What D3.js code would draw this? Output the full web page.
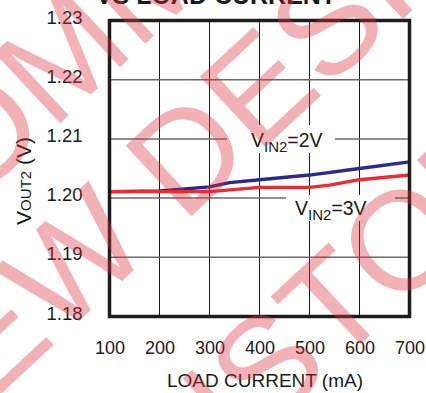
<!DOCTYPE html>
<html>
<head>
<meta charset="utf-8">
<script src="https://cdn.jsdelivr.net/npm/d3@7"></script>
<style>
  body { margin: 0; background: #fff; }
  svg { display: block; font-family: "Liberation Sans", Arial, Helvetica, sans-serif; }
</style>
</head>
<body>
<svg id="chart" width="426" height="393"></svg>
<script>
// Load current ticks (mA) and output voltage ticks (V)
const xTickValues = [100, 200, 300, 400, 500, 600, 700];
const yTickValues = [1.18, 1.19, 1.20, 1.21, 1.22, 1.23];

// VOUT2 vs load current, VIN2 = 2V
const vin2Load = [100, 200, 300, 340, 400, 500, 600, 700];
const vin2Vout = [1.2011, 1.2012, 1.2019, 1.2026, 1.2031, 1.2039, 1.2050, 1.2061];

// VOUT2 vs load current, VIN2 = 3V
const vin3Load = [100, 200, 300, 400, 500, 540, 600, 700];
const vin3Vout = [1.2011, 1.2011, 1.2011, 1.2018, 1.2018, 1.2022, 1.2031, 1.2039];

// Watermark lines
const watermarkLines = ["NOT RECOMMENDED", "FOR NEW DESIGNS", "CONTACT CUSTOMER"];

const svg = d3.select("#chart");

const x = d3.scaleLinear().domain([100, 700]).range([109.5, 409.5]);
const y = d3.scaleLinear().domain([1.18, 1.23]).range([316.5, 20.5]);

// Title (runs off the top edge)
svg.append("text")
  .attr("x", 216).attr("y", 3.5)
  .attr("text-anchor", "middle")
  .attr("font-size", 25).attr("font-weight", "bold")
  .attr("fill", "#1a1a1a")
  .text("VS LOAD CURRENT");

// Grid
const grid = svg.append("g");
grid.selectAll("line.v")
  .data(xTickValues.slice(1, -1))
  .join("line")
  .attr("class", "v")
  .attr("x1", d => x(d)).attr("x2", d => x(d))
  .attr("y1", y(1.23)).attr("y2", y(1.18))
  .attr("stroke", "#1a1a1a").attr("stroke-width", 1);
grid.selectAll("line.h")
  .data(yTickValues.slice(1, -1))
  .join("line")
  .attr("class", "h")
  .attr("x1", x(100)).attr("x2", x(700))
  .attr("y1", d => y(d)).attr("y2", d => y(d))
  .attr("stroke", "#6a6a6a").attr("stroke-width", 1.5);

// White boxes behind the series labels
svg.append("rect").attr("x", 227).attr("y", 125).attr("width", 108).attr("height", 28).attr("fill", "#fff");
svg.append("rect").attr("x", 286).attr("y", 195).attr("width", 109).attr("height", 26).attr("fill", "#fff");

// Series
const line = d3.line().x(d => x(d[0])).y(d => y(d[1]));
svg.append("path")
  .datum(vin2Load.map((v, i) => [v, vin2Vout[i]]))
  .attr("d", line)
  .attr("fill", "none").attr("stroke", "#2a2a8e").attr("stroke-width", 3.3)
  .attr("stroke-linejoin", "round");
svg.append("path")
  .datum(vin3Load.map((v, i) => [v, vin3Vout[i]]))
  .attr("d", line)
  .attr("fill", "none").attr("stroke", "#ec2a31").attr("stroke-width", 3.3)
  .attr("stroke-linejoin", "round");

// Frame
svg.append("rect")
  .attr("x", x(100)).attr("y", y(1.23))
  .attr("width", x(700) - x(100)).attr("height", y(1.18) - y(1.23))
  .attr("fill", "none").attr("stroke", "#1c1c1c").attr("stroke-width", 3.5);

// Axes
const xAxis = svg.append("g")
  .attr("transform", `translate(0,${y(1.18)})`)
  .call(d3.axisBottom(x).tickValues(xTickValues).tickFormat(d3.format("d")).tickSize(0).tickPadding(25));
xAxis.select(".domain").remove();
xAxis.selectAll("text").attr("font-size", 18).attr("fill", "#1a1a1a")
  .attr("font-family", "Liberation Sans, Arial, sans-serif");

const yAxis = svg.append("g")
  .attr("transform", `translate(${x(100)},0)`)
  .call(d3.axisLeft(y).tickValues(yTickValues).tickFormat(d3.format(".2f")).tickSize(0).tickPadding(27));
yAxis.select(".domain").remove();
yAxis.selectAll("text").attr("font-size", 18.5).attr("fill", "#1a1a1a").attr("dy", "0.14em")
  .attr("font-family", "Liberation Sans, Arial, sans-serif");

// Axis titles
svg.append("text")
  .attr("x", 265).attr("y", 387)
  .attr("text-anchor", "middle")
  .attr("font-size", 19).attr("fill", "#1a1a1a")
  .text("LOAD CURRENT (mA)");

const yTitle = svg.append("text")
  .attr("transform", "translate(30.5,181) rotate(-90)")
  .attr("text-anchor", "middle")
  .attr("font-size", 21).attr("fill", "#1a1a1a");
yTitle.append("tspan").text("V");
yTitle.append("tspan").attr("font-size", 15).text("OUT2");
yTitle.append("tspan").text(" (V)");

// Series labels
function seriesLabel(px, py, tail) {
  const t = svg.append("text").attr("x", px).attr("y", py)
    .attr("font-size", 19.5).attr("fill", "#1a1a1a");
  t.append("tspan").text("V");
  t.append("tspan").attr("font-size", 15).attr("dy", 5).text("IN2");
  t.append("tspan").attr("dy", -5).text(tail);
}
seriesLabel(251, 147, "=2V");
seriesLabel(295, 215, "=3V");

// Watermark overlay
const wmSpec = [
  { ox: 51.7, oy: 131, at: 8 },
  { ox: 183, oy: 224, at: 8 },
  { ox: 334, oy: 369, at: 11 }
];
const wm = svg.append("g").attr("pointer-events", "none");
watermarkLines.forEach((s, i) => {
  const t = wm.append("text")
    .attr("font-size", 140)
    .attr("fill", "rgb(222,50,60)").attr("fill-opacity", 0.38)
    .attr("transform", `translate(${wmSpec[i].ox},${wmSpec[i].oy}) rotate(-43)`)
    .text(s);
  const off = t.node().getStartPositionOfChar(wmSpec[i].at).x;
  t.attr("x", -off);
});
</script>
</body>
</html>
